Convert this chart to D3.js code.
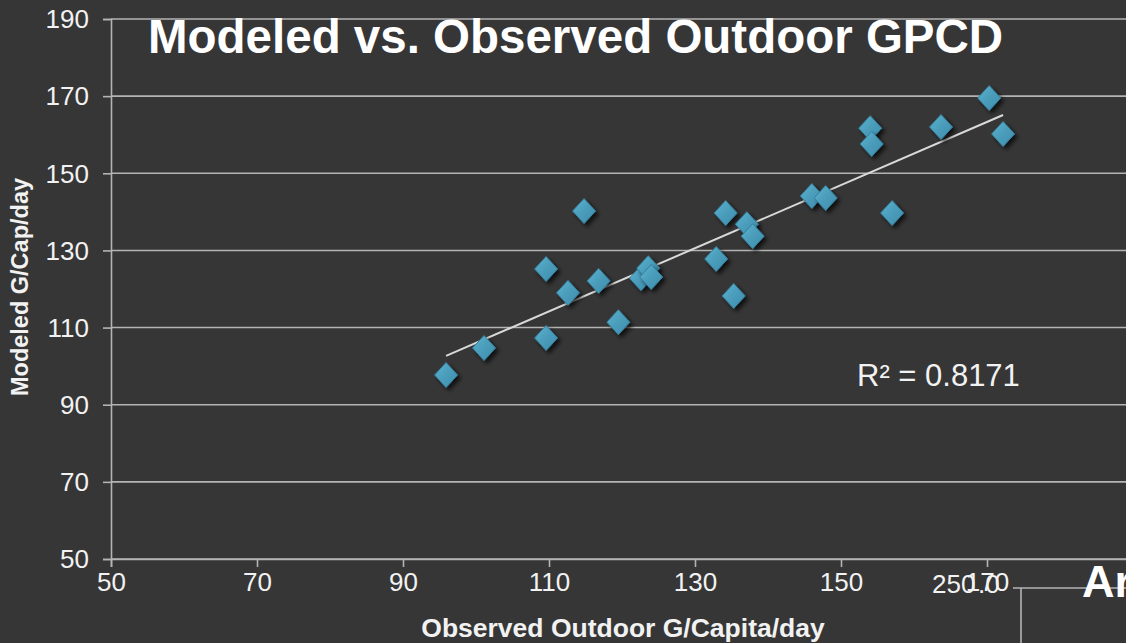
<!DOCTYPE html>
<html>
<head>
<meta charset="utf-8">
<script src="https://cdn.jsdelivr.net/npm/d3@7/dist/d3.min.js"></script>
<style>
  html, body { margin: 0; padding: 0; background: #363636; overflow: hidden; }
  svg { display: block; font-family: "Liberation Sans", Arial, sans-serif; }
</style>
</head>
<body>
<svg id="chart" width="1126" height="643"></svg>
<script>
// Observed outdoor GPCD (x) vs modeled outdoor GPCD (y)
const observed = [95.9, 101.1, 109.6, 109.6, 112.6, 114.8, 116.8, 119.5, 122.6, 123.6, 124.0, 132.9,
                  134.2, 135.3, 137.1, 137.9, 146.0, 147.9, 157.0, 154.0, 154.2, 163.7, 170.3, 172.2];
const modeled  = [97.7, 104.7, 107.3, 125.2, 119.0, 140.2, 122.1, 111.4, 122.8, 125.4, 123.1, 127.8,
                  139.7, 118.2, 136.8, 133.7, 144.1, 143.6, 139.7, 161.7, 157.6, 162.0, 169.5, 160.2];
const xTicks = [50, 70, 90, 110, 130, 150, 170];
const yTicks = [50, 70, 90, 110, 130, 150, 170, 190];
const titleText = "Modeled vs. Observed Outdoor GPCD";
const xTitle = "Observed Outdoor G/Capita/day";
const yTitle = "Modeled G/Cap/day";
const r2Text = "R² = 0.8171";

const svg = d3.select("#chart");
const W = 1126, H = 643;
const mLeft = 111, mTop = 19, mBottom = 559;
const x = d3.scaleLinear().domain([50, 190]).range([mLeft, mLeft + 140 * 7.3]);
const y = d3.scaleLinear().domain([50, 190]).range([mBottom, mTop]);

const grid = "#b4b4b4";
const textCol = "#f2f2f2";

const defs = svg.append("defs");
const grad = defs.append("linearGradient").attr("id", "mk").attr("x1", "0").attr("y1", "0").attr("x2", "1").attr("y2", "1");
grad.append("stop").attr("offset", "0%").attr("stop-color", "#5bb5d2");
grad.append("stop").attr("offset", "50%").attr("stop-color", "#4a9cba");
grad.append("stop").attr("offset", "100%").attr("stop-color", "#3d8eaf");
const f = defs.append("filter").attr("id", "sh").attr("x", "-50%").attr("y", "-50%").attr("width", "200%").attr("height", "200%");
f.append("feGaussianBlur").attr("in", "SourceAlpha").attr("stdDeviation", 2.2).attr("result", "b");
f.append("feOffset").attr("in", "b").attr("dx", 3).attr("dy", 3).attr("result", "o");
f.append("feComponentTransfer").attr("in", "o").attr("result", "o2")
  .append("feFuncA").attr("type", "linear").attr("slope", 0.7);
const fm = f.append("feMerge");
fm.append("feMergeNode").attr("in", "o2");
fm.append("feMergeNode").attr("in", "SourceGraphic");

// gridlines
svg.append("g").selectAll("line").data(yTicks).join("line")
  .attr("x1", mLeft).attr("x2", W + 20)
  .attr("y1", d => y(d)).attr("y2", d => y(d))
  .attr("stroke", grid).attr("stroke-width", 1.6);

// y axis
const yAxis = svg.append("g").attr("transform", `translate(${mLeft},0)`)
  .call(d3.axisLeft(y).tickValues(yTicks).tickSize(8).tickPadding(14).tickFormat(d3.format("d")));
yAxis.select(".domain").attr("stroke", grid).attr("stroke-width", 1.6);
yAxis.selectAll(".tick line").attr("stroke", grid).attr("stroke-width", 1.6);
yAxis.selectAll(".tick text").attr("fill", textCol).style("font-size", "26px").attr("dy", "0.34em");

// x axis
const xAxis = svg.append("g").attr("transform", `translate(0,${mBottom})`)
  .call(d3.axisBottom(x).tickValues(xTicks).tickSize(8).tickPadding(5).tickFormat(d3.format("d")));
xAxis.select(".domain").attr("stroke", grid).attr("stroke-width", 1.6);
xAxis.selectAll(".tick line").attr("stroke", grid).attr("stroke-width", 1.6);
xAxis.selectAll(".tick text").attr("fill", textCol).style("font-size", "26px").attr("dy", "0.72em");

// title
svg.append("text").attr("x", 148).attr("y", 53).attr("fill", "#ffffff")
  .style("font-size", "47.5px").style("font-weight", "bold").text(titleText);

// axis titles
svg.append("text").attr("x", 623).attr("y", 637).attr("text-anchor", "middle").attr("fill", textCol)
  .style("font-size", "26.5px").style("font-weight", "bold").text(xTitle);
svg.append("text").attr("transform", "translate(28,287) rotate(-90)").attr("text-anchor", "middle").attr("fill", textCol)
  .style("font-size", "23.5px").style("font-weight", "bold").text(yTitle);

// trendline (least squares)
const n = observed.length;
const mx = d3.mean(observed), my = d3.mean(modeled);
let sxy = 0, sxx = 0;
for (let i = 0; i < n; i++) { sxy += (observed[i] - mx) * (modeled[i] - my); sxx += (observed[i] - mx) ** 2; }
const slope = sxy / sxx, icpt = my - slope * mx;
const [x0, x1] = d3.extent(observed);
svg.append("line")
  .attr("x1", x(x0)).attr("y1", y(icpt + slope * x0))
  .attr("x2", x(x1)).attr("y2", y(icpt + slope * x1))
  .attr("stroke", "#d9d9d9").attr("stroke-width", 2);

// points
const pts = observed.map((v, i) => ({ x: v, y: modeled[i] }));
svg.append("g").selectAll("path").data(pts).join("path")
  .attr("transform", d => `translate(${x(d.x)},${y(d.y)})`)
  .attr("d", "M0,-12.5L11.5,0L0,12.5L-11.5,0Z")
  .attr("fill", "url(#mk)").attr("stroke", "#357f9c").attr("stroke-width", 1)
  .attr("filter", "url(#sh)");

// R² label
svg.append("text").attr("x", 857).attr("y", 386).attr("fill", textCol)
  .style("font-size", "31px").text(r2Text);

// overlapping elements of the slide behind (partial neighbouring chart)
svg.append("text").attr("x", 932).attr("y", 593).attr("fill", textCol).style("font-size", "26px").text("250");
svg.append("text").attr("x", 978).attr("y", 593).attr("fill", textCol).style("font-size", "26px").text(".0");
svg.append("line").attr("x1", 1013).attr("x2", W).attr("y1", 588).attr("y2", 588).attr("stroke", grid).attr("stroke-width", 1.6);
svg.append("line").attr("x1", 1021).attr("x2", 1021).attr("y1", 588).attr("y2", H).attr("stroke", grid).attr("stroke-width", 1.6);
svg.append("text").attr("x", 1082).attr("y", 597).attr("fill", "#ffffff")
  .style("font-size", "45px").style("font-weight", "bold").text("Ar");
</script>
</body>
</html>
